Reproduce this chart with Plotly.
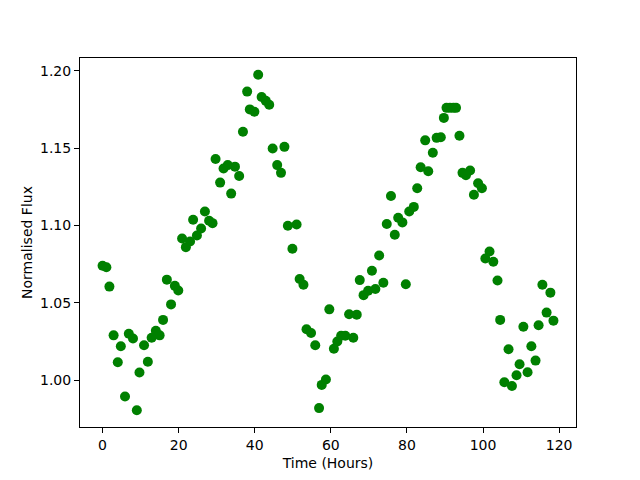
import plotly.graph_objects as go

time_hours = [0, 1.0, 1.8, 2.9, 4.0, 4.8, 5.9, 6.9, 8.0, 9.0, 9.7, 10.9, 11.9, 12.9, 14.0, 15.0,
              15.9, 16.9, 18.0, 19.0, 19.9, 20.9, 21.9, 23.0, 23.8, 24.8, 25.9, 26.9, 28.0, 28.9,
              29.7, 30.9, 31.8, 32.9, 33.8, 34.8, 35.9, 36.9, 38.0, 38.7, 39.9, 40.9, 41.8, 42.9,
              43.8, 44.7, 45.9, 46.9, 47.8, 48.7, 49.9, 51.0, 51.8, 52.8, 53.6, 54.8, 55.9, 56.9,
              57.6, 58.7, 59.6, 60.8, 61.7, 62.7, 63.8, 64.8, 65.9, 66.8, 67.6, 68.6, 69.8, 70.8,
              71.7, 72.7, 73.8, 74.7, 75.8, 76.8, 77.7, 78.8, 79.7, 80.6, 81.8, 82.7, 83.6, 84.8,
              85.6, 86.8, 87.8, 88.9, 89.7, 90.4, 91.3, 92.2, 92.9, 93.8, 94.6, 95.5, 96.6, 97.6,
              98.7, 99.7, 100.6, 101.7, 102.7, 103.8, 104.5, 105.6, 106.7, 107.6, 108.8, 109.6,
              110.6, 111.7, 112.7, 113.8, 114.6, 115.6, 116.7, 117.7, 118.5]
flux = [1.074, 1.073, 1.0605, 1.029, 1.0116, 1.022, 0.9895, 1.030, 1.027, 0.9806, 1.005, 1.0226,
        1.012, 1.0275, 1.032, 1.029, 1.039, 1.065, 1.049, 1.061, 1.058, 1.0916, 1.086, 1.0897,
        1.1037, 1.0935, 1.098, 1.109, 1.103, 1.1015, 1.143, 1.1277, 1.1368, 1.139, 1.1206, 1.138,
        1.132, 1.1606, 1.1865, 1.175, 1.1735, 1.1974, 1.183, 1.1805, 1.178, 1.1497, 1.139, 1.134,
        1.1508, 1.0998, 1.085, 1.1006, 1.0654, 1.0617, 1.033, 1.0305, 1.0226, 0.982, 0.997,
        1.0005, 1.0458, 1.0204, 1.025, 1.0288, 1.0288, 1.0426, 1.0275, 1.0424, 1.0647, 1.055,
        1.0578, 1.0707, 1.059, 1.0806, 1.063, 1.101, 1.119, 1.094, 1.105, 1.102, 1.062, 1.109,
        1.112, 1.124, 1.1376, 1.155, 1.135, 1.147, 1.1566, 1.157, 1.1695, 1.176, 1.176, 1.176,
        1.176, 1.158, 1.134, 1.1325, 1.1355, 1.1198, 1.1273, 1.124, 1.0787, 1.0832, 1.0766,
        1.0645, 1.039, 0.9987, 1.020, 0.9963, 1.0032, 1.0103, 1.0346, 1.0052, 1.022, 1.0127,
        1.0355, 1.0617, 1.0437, 1.0566, 1.0385]

x_ticks = [0, 20, 40, 60, 80, 100, 120]
y_ticks = [1.00, 1.05, 1.10, 1.15, 1.20]

fig = go.Figure()
fig.add_trace(go.Scatter(x=time_hours, y=flux, mode="markers",
                         marker=dict(color="#008000", size=10, line=dict(width=0))))

axis_common = dict(showgrid=False, zeroline=False, showline=True, linecolor="black",
                   linewidth=1, mirror=True, ticks="outside", ticklen=5, tickwidth=1,
                   tickcolor="black", tickfont=dict(family="DejaVu Sans", size=14, color="black"))

fig.update_layout(
    width=640, height=480,
    margin=dict(l=72, r=72, t=50, b=61, autoexpand=False),
    paper_bgcolor="white", plot_bgcolor="white",
    showlegend=False,
    font=dict(family="DejaVu Sans", size=14, color="black"),
    xaxis=dict(range=[-5.93, 124.43], tickvals=x_ticks, ticktext=[str(v) for v in x_ticks],
               title=dict(text="Time (Hours)", standoff=6,
                          font=dict(family="DejaVu Sans", size=14)), **axis_common),
    yaxis=dict(range=[0.9698, 1.2082], tickvals=y_ticks, ticktext=[f"{v:.2f}" for v in y_ticks],
               title=dict(text="Normalised Flux", standoff=4,
                          font=dict(family="DejaVu Sans", size=14)), **axis_common),
)

fig.write_html("out.html")
